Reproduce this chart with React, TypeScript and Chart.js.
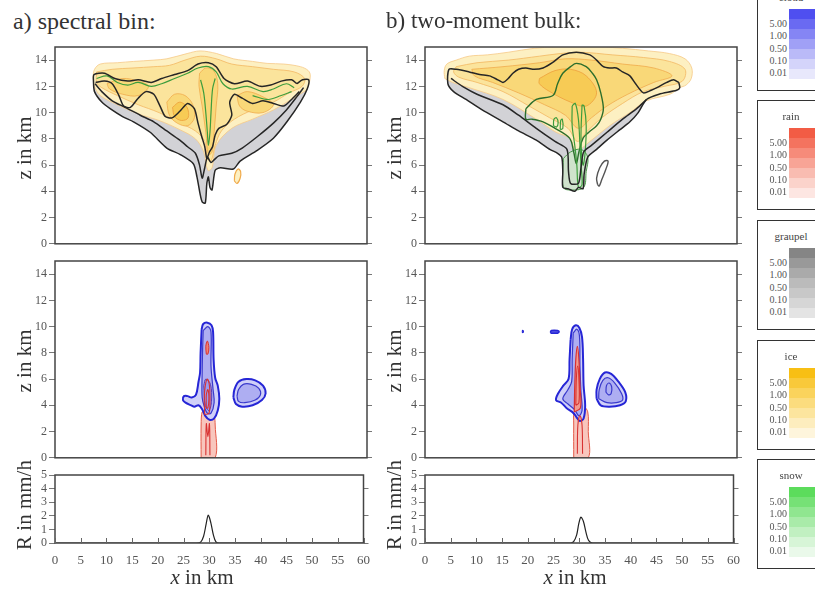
import React, { useEffect, useRef } from "react";
import { Chart, registerables } from "chart.js";

Chart.register(...registerables);

type Pt = [number, number];

const FONT = "'Liberation Serif', 'Times New Roman', serif";

// ---------------- axes / labels ----------------
const xTicks = [0, 5, 10, 15, 20, 25, 30, 35, 40, 45, 50, 55, 60];
const zTicks = [0, 2, 4, 6, 8, 10, 12, 14];
const rTicks = [0, 1, 2, 3, 4, 5];
const levelLabels = ["5.00", "1.00", "0.50", "0.10", "0.01"];
const legendNames = ["cloud", "rain", "graupel", "ice", "snow"];
const panelTitles = ["a) spectral bin:", "b) two-moment bulk:"];

// ---------------- surface rain rate (mm/h) ----------------
const rainXA = [0, 27.5, 28.3, 28.9, 29.4, 29.8, 30.3, 30.8, 31.3, 32.0, 60];
const rainRA = [0, 0, 0.05, 0.5, 1.4, 2.05, 1.5, 0.6, 0.08, 0, 0];
const rainXB = [0, 28.3, 28.9, 29.5, 29.9, 30.3, 30.8, 31.3, 31.8, 32.6, 60];
const rainRB = [0, 0, 0.1, 0.6, 1.4, 1.9, 1.6, 0.8, 0.2, 0, 0];

// ---------------- panel a, upper: ice / graupel / snow ----------------
const A_graupel: Pt[] = [[7.5,12.9],[7.4,12.4],[7.6,11.6],[9,10.8],[10.6,10.3],[13,9.7],[15.1,9.3],[18.3,8.5],[21.5,7.3],[24.1,6.8],[26.6,6.1],[27.3,5.1],[27.9,3.8],[28.3,3.2],[28.9,3.1],[29.2,4.6],[29.5,5.1],[29.8,4.3],[30.2,4.1],[30.8,5.6],[31.8,5.8],[34.3,5.7],[35.6,6.3],[38.8,7.1],[42,8.05],[44.6,9.3],[47.2,10.8],[48.5,11.8],[48.8,12.5],[47,12.8],[30,13.2],[10,13.0]];
const A_ice1: Pt[] = [[7.3,12.7],[7.6,13.3],[8.7,13.7],[12,13.8],[15.1,13.9],[19,14.0],[21.5,14.1],[25.4,14.5],[27.9,14.7],[31.1,14.5],[34.3,14.1],[38,13.9],[40.8,13.75],[44,13.7],[47.2,13.5],[48.7,13.2],[49.1,12.8],[48.5,11.8],[47.5,11.5],[45,10.9],[42,10.2],[38,9.5],[34,8.8],[31,7.5],[30.2,5.8],[29.4,5.6],[28.6,7.0],[27,8.0],[24,8.7],[20,9.4],[16,9.9],[12,10.6],[8.7,11.3],[7.6,12.0]];
const A_ice2: Pt[] = [[8,13.1],[11,13.3],[15,13.4],[19,13.5],[22,13.6],[25,14.0],[28,14.3],[31,14.1],[34,13.7],[38,13.5],[42,13.3],[46,13.1],[48,12.6],[47.5,12.0],[45,11.5],[42,10.8],[38,10.2],[34.5,9.5],[32,8.6],[30.8,7.5],[30,6.3],[29.3,6.5],[28.8,7.8],[27,8.6],[24,9.2],[20,10.0],[16,10.6],[12,11.3],[9,11.9],[8,12.3]];
const A_ice3a: Pt[] = [[21.5,10.8],[23,11.4],[25,11.3],[26.5,10.6],[26.8,9.6],[25.5,9.0],[23.5,9.2],[22,9.8]];
const A_ice3b: Pt[] = [[27.8,13.0],[29,13.4],[30.5,13.2],[31.3,12.2],[31,10.5],[30.6,8.5],[30.2,7.0],[29.5,6.8],[29,8.5],[28.3,10.5],[27.7,12.0]];
const A_ice3c: Pt[] = [[35,11.3],[37,11.6],[40,11.2],[42,10.6],[40,10.0],[37,10.1],[35.5,10.5]];
const A_ice3d: Pt[] = [[10,12.2],[13,12.6],[16,12.4],[18,12.0],[16,11.3],[13,11.4],[10.5,11.8]];
const A_ice4: Pt[] = [[22.6,10.4],[24,10.8],[25.4,10.4],[25.6,9.6],[24.3,9.4],[23,9.7]];
const A_blackOuter: Pt[] = [[46.5,12.2],[47.6,12.5],[48.8,12.5],[48.5,11.8],[47.2,10.8],[44.6,9.3],[42,8.05],[38.8,7.1],[35.6,6.3],[34.3,5.7],[31.8,5.8],[30.8,5.6],[30.2,4.1],[29.8,4.3],[29.5,5.1],[29.2,4.6],[28.9,3.1],[28.3,3.2],[27.9,3.8],[27.3,5.1],[26.6,6.1],[24.1,6.8],[21.5,7.3],[18.3,8.5],[15.1,9.3],[13,9.7],[10.6,10.3],[9,10.8],[7.6,11.6],[7.4,12.4],[7.5,12.9],[9.5,13.0],[11.5,12.6],[14,12.4],[16,12.5],[18.5,12.3],[20.5,12.6],[23,12.9],[25.5,13.2],[27.5,13.7],[29.5,13.8],[31,13.5],[32.5,12.6],[34.5,12.2],[37,12.4],[39.5,12.0],[41.5,12.1],[43.5,12.4],[45.5,12.5],[46.5,12.2]];
const A_blackInner: Pt[] = [[7.7,12.2],[9,11.6],[11,10.9],[13.5,10.4],[16.4,9.8],[19,9.3],[21.5,8.6],[24,7.9],[25.5,7.4],[27,6.9],[27.8,6.0],[28.3,5.0],[28.8,5.8],[29.3,6.6],[30,6.2],[30.6,6.4],[31.5,6.7],[34,6.9],[36,7.3],[39,8.2],[42,9.2],[44.5,10.2],[46.5,11.2],[47.8,11.9]];
const A_blackWiggle: Pt[] = [[7.8,12.3],[9.5,12.4],[11,12.2],[12.3,11.3],[13.2,10.5],[14.5,10.4],[16,11.1],[17.5,11.6],[19,11.4],[20.2,10.5],[21.2,9.7],[22.5,9.6],[24,10.1],[25.5,10.7],[26.8,10.3],[27.5,9.2],[28.2,8.2],[28.8,7.4],[29.2,6.5],[29.7,7.0],[30.3,7.4],[30.8,8.3],[31.5,8.8],[33,9.1],[34,9.8],[33.6,10.8],[34.5,11.4],[36,11.1],[38,10.7],[40,10.9],[42,10.7],[44,10.5],[45.5,11.0],[47,11.6]];
const A_green1: Pt[] = [[8,12.6],[10,12.8],[12,12.3],[14,12.1],[16,12.3],[18.5,12.0],[20.5,12.2],[23,12.6],[25.5,13.0],[27.5,13.4],[29.5,13.5],[31,13.1],[32.3,12.2],[34,11.8],[37,12.0],[40,11.6],[42,11.8],[44.5,12.2],[46,11.9]];
const A_green2: Pt[] = [[28.0,12.5],[28.6,11.5],[29.0,10.0],[29.3,8.5],[29.5,7.5],[29.8,8.5],[30.0,10.0],[30.3,11.8],[30.8,12.6]];
const A_green3: Pt[] = [[38,11.3],[41,11.0],[43.5,11.3],[45.5,11.6]];
const A_iceRing: Pt[] = [[34.5,4.8],[34.6,5.3],[35.2,5.7],[35.7,5.5],[35.6,5.0],[35.0,4.6]];

// ---------------- panel b, upper ----------------
const B_graupel: Pt[] = [[4.6,13.3],[4.4,12.2],[5.5,11.6],[7.9,11.0],[11,10.2],[15,9.3],[18,8.6],[21.4,7.9],[24,7.2],[25.5,6.9],[26.3,6.6],[26.5,5.5],[26.5,4.3],[27.5,4.2],[28.8,4.0],[29.5,4.3],[30.4,4.2],[30.6,5.3],[31.3,6.6],[33,7.2],[35,7.9],[37.5,8.7],[39.4,9.3],[41,10.0],[42.6,11.0],[45,11.4],[48.4,11.8],[49,12.3],[45,13],[20,13.2],[8,13.2]];
const B_ice1: Pt[] = [[3.8,12.6],[3.7,13.2],[4.2,13.7],[6,14.0],[8.5,14.3],[12,14.4],[16,14.6],[21,14.9],[25,15.0],[28,15.0],[34,15.0],[38,14.9],[43,14.7],[47,14.5],[50,14.1],[51.3,13.4],[51.2,12.6],[50.2,12.1],[49,11.9],[47.1,11.4],[42.6,10.9],[39.4,10.0],[35.5,9.0],[31.7,7.8],[29.1,7.1],[27.8,8.05],[25.2,8.5],[21.4,9.5],[15,11.0],[8.5,11.9],[5.3,12.3]];
const B_ice2: Pt[] = [[6,13.5],[10,13.8],[16,14.0],[22,14.3],[26,14.5],[30,14.6],[36,14.4],[42,14.2],[47,13.9],[50,13.3],[49.5,12.4],[46,12.0],[42,11.6],[38,10.7],[34,9.6],[31,8.5],[29.3,7.8],[27.5,8.8],[24,9.6],[20,10.5],[15,11.6],[10,12.3],[6.5,12.7],[5.5,13.1]];
const B_ice3: Pt[] = [[9,13.3],[15,13.5],[22,13.8],[27,14.1],[32,14.0],[38,13.7],[44,13.4],[47.5,12.8],[44,12.3],[39,11.4],[35,10.5],[32,9.6],[29.5,8.8],[27,9.8],[23,10.6],[18,11.5],[13,12.3],[9.5,12.8]];
const B_ice4: Pt[] = [[22,12.6],[25,13.2],[28,13.3],[31,12.8],[33,11.5],[31,10.5],[28,10.8],[24,11.6],[22,12.2]];
const B_snowCol: Pt[] = [[26.6,6.5],[26.6,4.3],[28,4.1],[30.5,4.3],[31,5.5],[31.3,6.6],[30,7.2],[28,7.0]];
const B_blackOuter: Pt[] = [[48.8,12.3],[49,11.9],[48.4,11.7],[45,11.4],[42.6,11.0],[41,10.0],[39.4,9.3],[37.5,8.7],[35,7.9],[33,7.2],[31.3,6.6],[30.6,5.3],[30.4,4.2],[29.5,4.3],[28.8,4.0],[27.5,4.2],[26.5,4.3],[26.5,5.5],[26.3,6.6],[25.5,6.9],[24,7.2],[21.4,7.9],[18,8.6],[15,9.3],[11,10.2],[7.9,11.0],[5.5,11.6],[4.4,12.2],[4.6,13.3],[6,13.3],[8.5,13.1],[10.5,12.9],[12.4,12.8],[14,12.5],[15,12.3],[16,12.6],[16.9,13.0],[18,13.3],[19.4,13.4],[21,13.3],[22.7,13.4],[24.5,13.8],[26.5,14.4],[29.1,14.6],[31.7,14.4],[33,14.0],[34.3,13.5],[35.5,13.4],[36.8,13.4],[38,13.1],[39.4,12.8],[40.5,12.2],[42,11.5],[43.5,11.7],[44.6,11.9],[46.5,12.3],[47.8,12.5],[48.8,12.3]];
const B_blackInner: Pt[] = [[5.0,12.6],[7.2,12.0],[10,11.4],[15,10.6],[18,9.8],[21.4,8.8],[25,7.8],[27.3,7.2],[27.6,5.5],[28.0,4.6],[29.5,4.6],[30.0,5.8],[30.5,7.0],[32,7.5],[35,8.5],[38,9.5],[40.7,10.3],[42.6,11.0]];
const B_greenLoop: Pt[] = [[19.4,10.3],[21.4,11.0],[24.6,11.3],[25.5,12.2],[26.5,13.0],[28,13.5],[29.1,13.75],[31,13.5],[32.2,13.0],[33,12.5],[33.8,11.5],[34.3,10.3],[33.8,9.5],[33,9.0],[31.5,8.5],[30.4,8.05],[29.6,7],[29.1,6.1],[28.6,7],[27.8,8.05],[25,8.8],[22.7,9.3],[20.5,9.5],[19.4,9.5]];
const B_greenCol1: Pt[] = [[28.3,10.5],[28.9,10.7],[29.5,9.5],[29.8,7.5],[30,6],[30.2,4.5],[29.5,4.3],[29.2,6],[28.8,7.5],[28.3,9.0]];
const B_greenCol2: Pt[] = [[30.2,10.6],[30.6,10.5],[31,9],[30.8,7],[30.4,6.0],[30.0,8]];
const B_greenDot1: Pt[] = [[24.7,9.0],[24.8,9.5],[25.3,9.6],[25.6,9.2],[25.3,8.9]];
const B_greenDot2: Pt[] = [[26.0,8.7],[26.1,9.4],[26.4,9.5],[26.5,8.8]];
const B_grayLoop: Pt[] = [[33.2,4.5],[33.0,5.0],[33.6,5.8],[34.5,6.3],[35.2,6.3],[34.8,5.7],[34,4.9],[33.5,4.4]];

// ---------------- panel a, middle: cloud / rain ----------------
const A_cloud1: Pt[] = [[28.2,9.8],[28.5,10.2],[29.3,10.3],[30.1,10.1],[30.4,9.6],[30.5,7.5],[30.8,6.1],[31.3,5.5],[31.6,4.5],[31.3,3.6],[30.6,3.0],[29.7,2.9],[28.9,3.2],[28.3,3.7],[27.6,4.0],[26.8,3.9],[26.2,4.0],[25.1,4.2],[24.6,4.4],[24.8,4.7],[25.5,4.7],[26.3,4.6],[27.1,4.8],[27.6,5.8],[27.9,6.5],[28.0,8.0]];
const A_cloud2: Pt[] = [[28.5,9.7],[29.4,10.0],[30.0,9.6],[30.0,7.0],[30.4,5.2],[30.6,4.2],[30.0,3.4],[29.3,3.4],[28.8,3.8],[28.3,4.6],[28.3,6.5],[28.4,8.5]];
const A_cloud3: Pt[] = [[28.6,5.5],[29.0,6.0],[29.9,5.6],[30.1,4.3],[29.6,3.6],[28.9,4.0]];
const A_cloudR1: Pt[] = [[34.3,4.6],[34.5,5.2],[35.3,5.8],[36.8,6.0],[38.5,5.9],[40.0,5.5],[40.5,4.9],[39.8,4.4],[38,4.0],[36,3.9],[34.8,4.1]];
const A_cloudR2: Pt[] = [[35.0,4.7],[35.3,5.2],[36.2,5.6],[37.8,5.6],[39.2,5.3],[39.5,4.8],[38.5,4.4],[36.5,4.2],[35.3,4.3]];
const A_rainCol: Pt[] = [[28.1,0],[28.1,2.5],[28.3,3.5],[28.8,3.4],[29.3,3.8],[30.0,3.5],[30.6,3.2],[30.8,2.5],[30.8,0]];
const A_rainIn1: Pt[] = [[29,0.2],[29.1,2.6],[29.4,1.6],[29.7,2.6],[29.8,0.2]];
const A_rainIn2: Pt[] = [[28.8,3.3],[28.7,4.5],[28.9,5.5],[29.3,6.0],[29.7,5.5],[29.8,4.3],[29.6,3.4]];
const A_rainIn3: Pt[] = [[29.1,3.8],[29.1,4.8],[29.4,5.2],[29.6,4.5],[29.4,3.8]];
const A_rainTop: Pt[] = [[29.1,7.9],[29.0,8.5],[29.3,8.9],[29.6,8.4],[29.4,7.9]];

// ---------------- panel b, middle ----------------
const B_cloud1: Pt[] = [[28.0,9.0],[28.3,9.8],[29.0,10.1],[29.7,9.9],[30.2,9.2],[30.4,7.5],[30.5,5.5],[30.8,4.0],[30.5,3.0],[29.8,2.8],[29.3,3.0],[28.8,3.3],[28.3,3.5],[27.2,3.8],[26.2,4.2],[25.2,4.4],[25.6,4.9],[26.6,5.5],[27.6,6.0],[27.8,7.5]];
const B_cloud2: Pt[] = [[28.5,9.5],[29.2,9.8],[29.7,9.3],[29.8,7],[30.0,5],[30.2,3.6],[29.6,3.2],[28.7,3.7],[27.5,4.1],[26.5,4.5],[27.5,5.2],[28.2,5.8],[28.3,7.5]];
const B_cloudR1: Pt[] = [[33,4.5],[33,5.2],[33.6,6.0],[34.6,6.5],[35.8,6.4],[37.2,5.8],[38.5,5.0],[38.6,4.3],[37.5,4.0],[35.5,3.9],[33.8,4.0]];
const B_cloudR2: Pt[] = [[33.4,4.5],[33.5,5.2],[34.2,5.9],[35.2,6.1],[36.5,5.7],[37.8,4.9],[38.0,4.4],[36.8,4.2],[35,4.2]];
const B_cloudR3: Pt[] = [[34.8,5.0],[34.9,5.5],[35.4,5.7],[35.9,5.4],[35.8,4.9],[35.3,4.8]];
const B_cloudDot1: Pt[] = [[18.7,9.6],[18.8,9.7],[18.9,9.6],[18.8,9.55]];
const B_cloudDot2: Pt[] = [[24.1,9.55],[24.3,9.7],[25.5,9.7],[25.8,9.6],[25.5,9.5],[24.3,9.5]];
const B_rainCol: Pt[] = [[28.6,0],[28.6,2.5],[28.7,3.9],[29.5,3.8],[30.5,3.9],[31.3,3.5],[31.4,2],[31.4,0]];
const B_rainCore: Pt[] = [[28.7,3.5],[28.8,5.5],[29.0,7.5],[29.3,8.5],[29.6,7.5],[29.8,5.5],[29.9,3.8]];
const B_rainIn1: Pt[] = [[29.0,4.0],[29.1,6],[29.35,7],[29.6,6],[29.6,4.2]];
const B_rainIn2: Pt[] = [[29.3,0.3],[29.4,2.5],[29.8,3.2],[30.2,2.5],[30.3,0.3]];

// ---------------- styles ----------------
type Style = { fill?: string; stroke?: string; width?: number; tension?: number };
type Layer = { pts: Pt[]; closed: boolean; st: Style };

const S: Record<string, Style> = {
  graupel: { fill: "#d2d2d6", tension: 0.2 },
  ice1: { fill: "#fdf0c2", stroke: "#f6c987", width: 0.8 },
  ice2: { fill: "#fbe49c", stroke: "#f3b862", width: 0.8 },
  ice3: { fill: "#f9d878", stroke: "#f0ab4c", width: 0.8 },
  ice4: { fill: "#f7cb55", stroke: "#ee9f3c", width: 0.8 },
  iceRing: { fill: "#fdf0c2", stroke: "#f0ab4c", width: 1.2 },
  snowFill: { fill: "#cfe3cc", stroke: "#4a9a4a", width: 1 },
  green: { stroke: "#3d9d3d", width: 1.2 },
  darkGreen: { stroke: "#2c6e2c", width: 1.4 },
  black: { stroke: "#262626", width: 1.5, tension: 0.25 },
  grayLine: { stroke: "#555555", width: 1.4 },
  cloud1: { fill: "#d0d0f8", stroke: "#2626d6", width: 2 },
  cloud2: { fill: "#aeaef2", stroke: "#3a3acc", width: 1.2 },
  cloud3: { fill: "#9a9aee", stroke: "#5a3ab0", width: 1 },
  cloudDot: { fill: "#5050e0", stroke: "#2626d6", width: 1.5 },
  rainFill: { fill: "#f8c6bd", stroke: "#e45a48", width: 1 },
  rainCore: { fill: "#f19a8e", stroke: "#d93030", width: 1.2 },
  rainLine: { stroke: "#d83232", width: 1.1 },
  rainDot: { fill: "#f08070", stroke: "#d83232", width: 1 },
};

const L = (pts: Pt[], st: Style, closed = true): Layer => ({ pts, st, closed });

const layersA1: Layer[] = [
  L(A_graupel, S.graupel), L(A_ice1, S.ice1), L(A_ice2, S.ice2),
  L(A_ice3a, S.ice3), L(A_ice3b, S.ice3), L(A_ice3c, S.ice3), L(A_ice3d, S.ice3), L(A_ice4, S.ice4),
  L(A_green1, S.green, false), L(A_green2, S.green, false), L(A_green3, S.green, false),
  L(A_blackWiggle, S.black, false), L(A_blackInner, S.black, false), L(A_blackOuter, S.black, false),
  L(A_iceRing, S.iceRing),
];
const layersB1: Layer[] = [
  L(B_graupel, S.graupel), L(B_ice1, S.ice1), L(B_ice2, S.ice2), L(B_ice3, S.ice3), L(B_ice4, S.ice4),
  L(B_snowCol, S.snowFill),
  L(B_greenLoop, S.darkGreen), L(B_greenCol1, S.green), L(B_greenCol2, S.green),
  L(B_greenDot1, S.green), L(B_greenDot2, S.green),
  L(B_blackInner, S.black, false), L(B_blackOuter, S.black, false), L(B_grayLoop, S.grayLine),
];
const layersA2: Layer[] = [
  L(A_rainCol, S.rainFill), L(A_cloudR1, S.cloud1), L(A_cloudR2, S.cloud2),
  L(A_cloud1, S.cloud1), L(A_cloud2, S.cloud2), L(A_cloud3, S.cloud3),
  L(A_rainIn1, S.rainLine, false), L(A_rainIn2, S.rainLine), L(A_rainIn3, S.rainLine), L(A_rainTop, S.rainDot),
];
const layersB2: Layer[] = [
  L(B_rainCol, S.rainFill), L(B_cloudR1, S.cloud1), L(B_cloudR2, S.cloud2), L(B_cloudR3, S.cloud2),
  L(B_cloud1, S.cloud1), L(B_cloud2, S.cloud2), L(B_rainCore, S.rainCore),
  L(B_rainIn1, S.rainLine), L(B_rainIn2, S.rainLine, false),
  L(B_cloudDot1, S.cloudDot), L(B_cloudDot2, S.cloudDot),
];
const zip = (xs: number[], ys: number[]): Pt[] => xs.map((x, i) => [x, ys[i]]);
const layersA3: Layer[] = [L(zip(rainXA, rainRA), { stroke: "#222", width: 1.2, tension: 0.3 }, false)];
const layersB3: Layer[] = [L(zip(rainXB, rainRB), { stroke: "#222", width: 1.2, tension: 0.3 }, false)];

// ---------------- plugins ----------------
const framePlugin = {
  id: "frame",
  afterDraw(chart: any) {
    const { ctx, chartArea } = chart;
    const { left, top, right, bottom } = chartArea;
    ctx.save();
    ctx.strokeStyle = "#444";
    ctx.lineWidth = 1.5;
    ctx.strokeRect(left, top, right - left, bottom - top);
    ctx.restore();
  },
};
const innerTickPlugin = {
  id: "innerTicks",
  afterDraw(chart: any) {
    const { ctx, chartArea, scales } = chart;
    ctx.save();
    ctx.strokeStyle = "#666";
    ctx.lineWidth = 1;
    xTicks.forEach((v) => {
      const px = Math.round(scales.x.getPixelForValue(v)) + 0.5;
      ctx.beginPath();
      ctx.moveTo(px, chartArea.bottom - 5);
      ctx.lineTo(px, chartArea.bottom + 1);
      ctx.stroke();
    });
    ctx.restore();
  },
};

type PanelProps = {
  left: number; top: number; width: number; height: number; padTop: number; xH: number;
  yMax: number; yTickVals: number[]; layers: Layer[]; showX: boolean;
};

function Panel(p: PanelProps) {
  const ref = useRef<HTMLCanvasElement>(null);
  useEffect(() => {
    const n = p.layers.length;
    const datasets = p.layers.map((l, i) => {
      const pts = l.closed ? [...l.pts, l.pts[0]] : l.pts;
      return {
        data: pts.map(([x, y]) => ({ x, y })),
        borderColor: l.st.stroke ?? "rgba(0,0,0,0)",
        borderWidth: l.st.stroke ? l.st.width ?? 1 : 0,
        backgroundColor: l.st.fill ?? "rgba(0,0,0,0)",
        fill: l.st.fill ? "shape" : false,
        pointRadius: 0,
        tension: l.st.tension ?? 0.35,
        order: n - i,
      };
    });
    const yTickSet = (s: any) => { s.ticks = p.yTickVals.map((v) => ({ value: v })); };
    const chart = new Chart(ref.current as HTMLCanvasElement, {
      type: "line",
      data: { datasets: datasets as any },
      options: {
        animation: false,
        responsive: false,
        maintainAspectRatio: false,
        events: [],
        layout: { padding: { top: p.padTop, left: 0, right: 0, bottom: 0 } },
        plugins: { legend: { display: false }, tooltip: { enabled: false } },
        scales: {
          x: {
            type: "linear", min: 0, max: 60, position: "bottom",
            afterBuildTicks: (s: any) => { s.ticks = xTicks.map((v) => ({ value: v })); },
            ticks: { display: p.showX, color: "#555", padding: 10, maxRotation: 0, autoSkip: false, font: { family: FONT, size: 13 } },
            grid: { display: false, drawTicks: false, tickLength: 0 },
            border: { display: false },
            afterFit: (s: any) => { s.height = p.xH; },
          },
          y: {
            type: "linear", min: 0, max: p.yMax, position: "left",
            afterBuildTicks: yTickSet,
            ticks: { color: "#555", padding: 2, autoSkip: false, font: { family: FONT, size: 12 } },
            grid: { drawOnChartArea: false, drawTicks: true, tickLength: 6, color: "#777" },
            border: { display: false },
            afterFit: (s: any) => { s.width = 55; },
          },
          y2: {
            type: "linear", min: 0, max: p.yMax, position: "right",
            afterBuildTicks: yTickSet,
            ticks: { callback: () => "", padding: 0 },
            grid: { drawOnChartArea: false, drawTicks: true, tickLength: 5, color: "#777" },
            border: { display: false },
            afterFit: (s: any) => { s.width = 13; },
          },
        },
      } as any,
      plugins: p.showX ? [framePlugin, innerTickPlugin] : [framePlugin],
    });
    return () => chart.destroy();
  }, []);
  return (
    <canvas
      ref={ref}
      width={p.width}
      height={p.height}
      style={{ position: "absolute", left: p.left, top: p.top, width: p.width, height: p.height }}
    />
  );
}

// ---------------- legend ----------------
const legendPalettes: Record<string, string[]> = {
  cloud: ["#4f4ff0", "#6a6af2", "#8585f4", "#a0a0f6", "#babaf8", "#d4d4fa", "#e8e8fc"],
  rain: ["#f25c45", "#f4735f", "#f68b7a", "#f8a496", "#f9bcb1", "#fbd3cb", "#fde6e2"],
  graupel: ["#858585", "#999999", "#aaaaaa", "#bbbbbb", "#c8c8c8", "#d6d6d6", "#e4e4e4"],
  ice: ["#f8bf14", "#f9c93a", "#fad35c", "#fbdc7e", "#fce59e", "#fdedbe", "#fef5dc"],
  snow: ["#5cdc5c", "#76e176", "#90e690", "#a9eba9", "#c1f0c1", "#d7f5d7", "#eaf9ea"],
};
const legendTops = [-19, 100, 220, 340, 459];

function bands(colors: string[]) {
  const n = colors.length;
  return (
    "linear-gradient(to bottom, " +
    colors.map((c, i) => `${c} ${((i * 100) / n).toFixed(2)}%, ${c} ${(((i + 1) * 100) / n).toFixed(2)}%`).join(", ") +
    ")"
  );
}

function LegendBox({ name, top }: { name: string; top: number }) {
  return (
    <div style={{ position: "absolute", left: 757, top, width: 80, height: 110, border: "1.5px solid #333", background: "#fff", boxSizing: "border-box" }}>
      <div style={{ position: "absolute", left: 0, width: 66, top: 9, textAlign: "center", fontSize: 11, lineHeight: "12px", color: "#444" }}>{name}</div>
      <div style={{ position: "absolute", left: 31, top: 27, width: 50, height: 70, background: bands(legendPalettes[name]) }} />
      {levelLabels.map((t, i) => (
        <div key={t} style={{ position: "absolute", left: 0, width: 29, top: 36 + i * 12.3, textAlign: "right", fontSize: 10, lineHeight: "11px", color: "#555" }}>{t}</div>
      ))}
    </div>
  );
}

function VLabel({ x, y, text, size }: { x: number; y: number; text: string; size: number }) {
  return (
    <div style={{ position: "absolute", left: x, top: y, transform: "translate(-50%, -50%) rotate(-90deg)", whiteSpace: "nowrap", fontSize: size, lineHeight: 1, color: "#333" }}>{text}</div>
  );
}

export default function App() {
  return (
    <div style={{ position: "fixed", left: 0, top: 0, width: 815, height: 589, overflow: "hidden", background: "#fff", fontFamily: FONT }}>
      <Panel left={0} top={37} width={380} height={216} padTop={10} xH={5} yMax={15} yTickVals={zTicks} layers={layersA1} showX={false} />
      <Panel left={370} top={37} width={380} height={216} padTop={10} xH={5} yMax={15} yTickVals={zTicks} layers={layersB1} showX={false} />
      <Panel left={0} top={250} width={380} height={217} padTop={11} xH={5} yMax={15} yTickVals={zTicks} layers={layersA2} showX={false} />
      <Panel left={370} top={250} width={380} height={217} padTop={11} xH={5} yMax={15} yTickVals={zTicks} layers={layersB2} showX={false} />
      <Panel left={0} top={465} width={380} height={108} padTop={10} xH={30} yMax={5} yTickVals={rTicks} layers={layersA3} showX={true} />
      <Panel left={370} top={465} width={380} height={108} padTop={10} xH={30} yMax={5} yTickVals={rTicks} layers={layersB3} showX={true} />

      <div style={{ position: "absolute", left: 13, top: 8, fontSize: 24, lineHeight: "26px", color: "#333", whiteSpace: "nowrap" }}>{panelTitles[0]}</div>
      <div style={{ position: "absolute", left: 386, top: 8, fontSize: 23, lineHeight: "26px", color: "#333", whiteSpace: "nowrap" }}>{panelTitles[1]}</div>

      <VLabel x={24} y={148} text="z in km" size={21} />
      <VLabel x={24} y={361} text="z in km" size={21} />
      <VLabel x={24} y={505} text="R in mm/h" size={21} />
      <VLabel x={394} y={148} text="z in km" size={21} />
      <VLabel x={394} y={361} text="z in km" size={21} />
      <VLabel x={394} y={505} text="R in mm/h" size={21} />

      <div style={{ position: "absolute", left: 202, top: 577, transform: "translate(-50%, -50%)", fontSize: 21, lineHeight: 1, color: "#333", whiteSpace: "nowrap" }}><i>x</i> in km</div>
      <div style={{ position: "absolute", left: 575, top: 577, transform: "translate(-50%, -50%)", fontSize: 21, lineHeight: 1, color: "#333", whiteSpace: "nowrap" }}><i>x</i> in km</div>

      {legendNames.map((n, i) => (
        <LegendBox key={n} name={n} top={legendTops[i]} />
      ))}
    </div>
  );
}
